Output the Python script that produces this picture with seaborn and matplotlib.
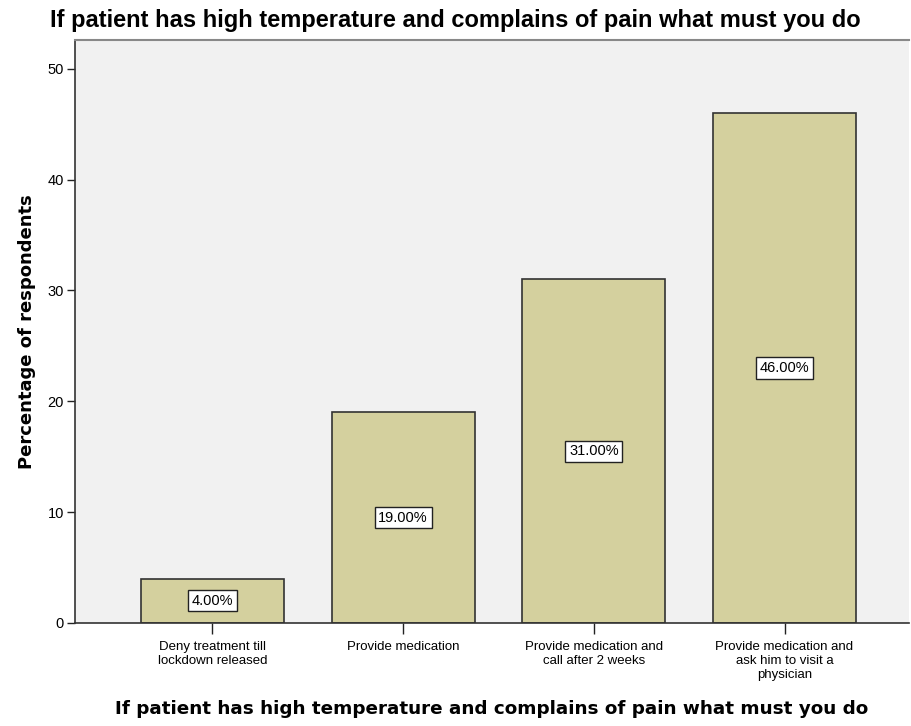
import matplotlib
matplotlib.use("Agg")
import matplotlib.pyplot as plt
import seaborn as sns
import pandas as pd

categories = ["Deny treatment till\nlockdown released", "Provide medication",
              "Provide medication and\ncall after 2 weeks",
              "Provide medication and\nask him to visit a\nphysician"]
values = [4, 19, 31, 46]
labels = ["4.00%", "19.00%", "31.00%", "46.00%"]
yticks = [0, 10, 20, 30, 40, 50]

sns.set_style("white")
plt.rcParams['font.family'] = ['Liberation Sans', 'DejaVu Sans']
plt.rcParams['text.color'] = 'black'
plt.rcParams['xtick.color'] = 'black'
plt.rcParams['ytick.color'] = 'black'
plt.rcParams['axes.labelcolor'] = 'black'

df = pd.DataFrame({"cat": categories, "val": values})
fig = plt.figure(figsize=(9.11, 7.26), dpi=100)
ax = fig.add_axes([0.0823, 0.1419, 0.915, 0.8031])
ax.set_facecolor("#f1f1f1")
sns.barplot(data=df, x="cat", y="val", color="#d4d09e", saturation=1, width=0.75,
            edgecolor="#333333", linewidth=1.2, ax=ax)
for i, (v, lab) in enumerate(zip(values, labels)):
    ax.text(i, v / 2, lab, ha="center", va="center", fontsize=10.5, color="black",
            bbox=dict(boxstyle="square,pad=0.25", fc="white", ec="#222222", lw=1))
ax.set_ylim(0, 52.6)
ax.set_xlim(-0.72, 3.65)
ax.set_yticks(yticks)
ax.tick_params(axis="y", length=6, width=1, labelsize=10.5, color="#222222", left=True, pad=2)
ax.tick_params(axis="x", length=8, width=1, labelsize=9.5, color="#222222", bottom=True, pad=5)
for s in ["left", "bottom"]:
    ax.spines[s].set_color("#333333")
    ax.spines[s].set_linewidth(1.2)
ax.spines["top"].set_color("#888888")
ax.spines["top"].set_linewidth(1.5)
ax.spines["right"].set_visible(False)
ax.set_ylabel("Percentage of respondents", fontsize=13, fontweight="bold",
              family="DejaVu Sans", labelpad=8)
ax.set_xlabel("If patient has high temperature and complains of pain what must you do",
              fontsize=13.2, fontweight="bold", family="DejaVu Sans", labelpad=14)
fig.text(0.5, 0.972, "If patient has high temperature and complains of pain what must you do",
         ha="center", va="center", fontsize=17, fontweight="bold")
fig.savefig("out.png", dpi=100)
